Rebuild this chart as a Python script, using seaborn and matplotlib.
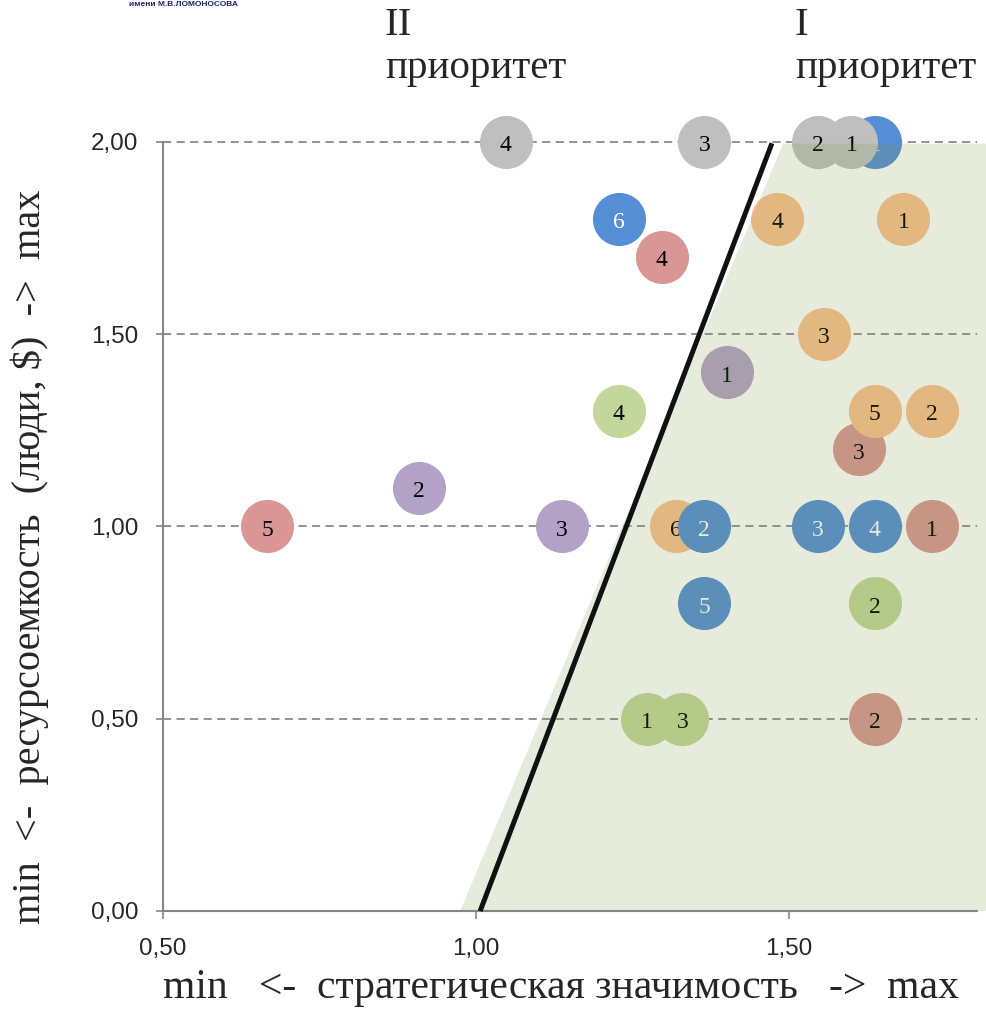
import matplotlib
matplotlib.use("Agg")
import matplotlib.pyplot as plt
import seaborn as sns
import pandas as pd
import numpy as np
from matplotlib.patches import Polygon
from matplotlib.ticker import FuncFormatter, FixedLocator

# ---------------- data ----------------
series_names = ["red", "orange", "green", "purple", "blue", "gray"]
series_colors = {"red": "#D99694", "orange": "#FAC090", "green": "#C3D69B",
                 "purple": "#B3A2C7", "blue": "#558ED5", "gray": "#BFBFBF"}
label_colors = {"red": "#000000", "orange": "#000000", "green": "#000000",
                "purple": "#000000", "blue": "#FFFFFF", "gray": "#000000"}

red_x = [1.728, 1.637, 1.612, 1.297, 0.667]
red_y = [1.00, 0.50, 1.20, 1.70, 1.00]
red_lbl = ["1", "2", "3", "4", "5"]

orange_x = [1.683, 1.728, 1.556, 1.481, 1.637, 1.320]
orange_y = [1.80, 1.30, 1.50, 1.80, 1.30, 1.00]
orange_lbl = ["1", "2", "3", "4", "5", "6"]

green_x = [1.273, 1.637, 1.330, 1.228]
green_y = [0.50, 0.80, 0.50, 1.30]
green_lbl = ["1", "2", "3", "4"]

purple_x = [1.401, 0.909, 1.137]
purple_y = [1.40, 1.10, 1.00]
purple_lbl = ["1", "2", "3"]

blue_x = [1.638, 1.365, 1.546, 1.637, 1.365, 1.228]
blue_y = [2.00, 1.00, 1.00, 1.00, 0.80, 1.80]
blue_lbl = ["1", "2", "3", "4", "5", "6"]

gray_x = [1.600, 1.546, 1.365, 1.048]
gray_y = [2.00, 2.00, 2.00, 2.00]
gray_lbl = ["1", "2", "3", "4"]

# boundary line and priority-I region
line_x = [1.007, 1.473]
line_y = [0.0, 1.996]
region_x = [0.975, 1.491, 1.815, 1.815]
region_y = [0.0, 1.995, 1.995, 0.0]

y_ticks = [0.0, 0.5, 1.0, 1.5, 2.0]
x_ticks = [0.5, 1.0, 1.5]

xlabel = "min   <-  стратегическая значимость   ->  max"
ylabel = "min  <-  ресурсоемкость  (люди, $)  ->  max"

series_data = {
    "red": (red_x, red_y, red_lbl),
    "orange": (orange_x, orange_y, orange_lbl),
    "green": (green_x, green_y, green_lbl),
    "purple": (purple_x, purple_y, purple_lbl),
    "blue": (blue_x, blue_y, blue_lbl),
    "gray": (gray_x, gray_y, gray_lbl),
}

rows = []
for name in series_names:
    xs, ys, ls = series_data[name]
    for xv, yv, lv in zip(xs, ys, ls):
        rows.append({"series": name, "x": xv, "y": yv, "label": lv})
df = pd.DataFrame(rows)

# ---------------- style ----------------
sns.set_style("white")
plt.rcParams["font.family"] = ["Liberation Serif", "DejaVu Serif"]

W, H = 986, 1011
fig = plt.figure(figsize=(W / 100, H / 100), dpi=100)
ax_l, ax_r, ax_b, ax_t = 162.7, 976.7, 911.0, 141.7
ax = fig.add_axes([ax_l / W, 1 - ax_b / H, (ax_r - ax_l) / W, (ax_b - ax_t) / H])
ax.set_xlim(0.5, 1.80)
ax.set_ylim(0.0, 2.0)

# grid lines
for yv in y_ticks[1:]:
    ax.axhline(yv, color="#8A8A8A", linewidth=1.3, linestyle=(0, (4.5, 3)),
               zorder=0.5, clip_on=False)

# bubbles (one call per series to keep stacking order)
for i, name in enumerate(series_names):
    sub = df[df["series"] == name]
    sns.scatterplot(data=sub, x="x", y="y", color=series_colors[name], s=1460,
                    linewidth=0, legend=False, ax=ax, clip_on=False,
                    zorder=2 + i * 0.1)
    for _, r in sub.iterrows():
        ax.text(r["x"], r["y"] - 0.01, r["label"], ha="center", va="center",
                fontsize=17, color=label_colors[name], zorder=2 + i * 0.1 + 0.05,
                family=["Liberation Serif", "DejaVu Serif"])

# priority-I shaded region (overlay)
poly = Polygon(list(zip(region_x, region_y)), closed=True, facecolor="#77933C",
               alpha=0.18, edgecolor="none", zorder=5, clip_on=False)
ax.add_patch(poly)

# boundary line
ax.plot(line_x, line_y, color="#111111", linewidth=3.6, solid_capstyle="butt",
        zorder=6, clip_on=False)

# axes styling
for s in ["top", "right"]:
    ax.spines[s].set_visible(False)
for s in ["left", "bottom"]:
    ax.spines[s].set_color("#868686")
    ax.spines[s].set_linewidth(1.5)
    ax.spines[s].set_zorder(1)
ax.xaxis.set_major_locator(FixedLocator(x_ticks))
ax.yaxis.set_major_locator(FixedLocator(y_ticks))
fmt = FuncFormatter(lambda v, p: f"{v:.2f}".replace(".", ","))
ax.xaxis.set_major_formatter(fmt)
ax.yaxis.set_major_formatter(fmt)
ax.tick_params(axis="y", direction="out", length=5.4, width=1.2, color="#868686",
               pad=12, labelsize=17.5, left=True)
ax.tick_params(axis="x", direction="out", length=5.4, width=1.2, color="#868686",
               pad=14, labelsize=17.5, bottom=True)
for t in ax.get_xticklabels() + ax.get_yticklabels():
    t.set_fontfamily(["Liberation Sans", "DejaVu Sans"])
ax.set_xlabel("")
ax.set_ylabel("")

# axis titles
fig.text(561 / W, 1 - 988 / H, xlabel, ha="center", va="center", fontsize=30)
fig.text(30 / W, 1 - 557 / H, ylabel, ha="center", va="center", fontsize=29,
         rotation=90)

# priority headers
fig.text(385 / W, 1 - 7 / H, "II\nприоритет", ha="left", va="top", fontsize=29.5,
         linespacing=1.2)
fig.text(795 / W, 1 - 7 / H, "I\nприоритет", ha="left", va="top", fontsize=29.5,
         linespacing=1.2)

# logo fragment
fig.text(183 / W, 1 - 4 / H, "имени М.В.ЛОМОНОСОВА", ha="center", va="center",
         fontsize=6, color="#1B2470", fontweight="bold",
         family=["Liberation Sans", "DejaVu Sans"])

fig.savefig("out.png", dpi=100)
